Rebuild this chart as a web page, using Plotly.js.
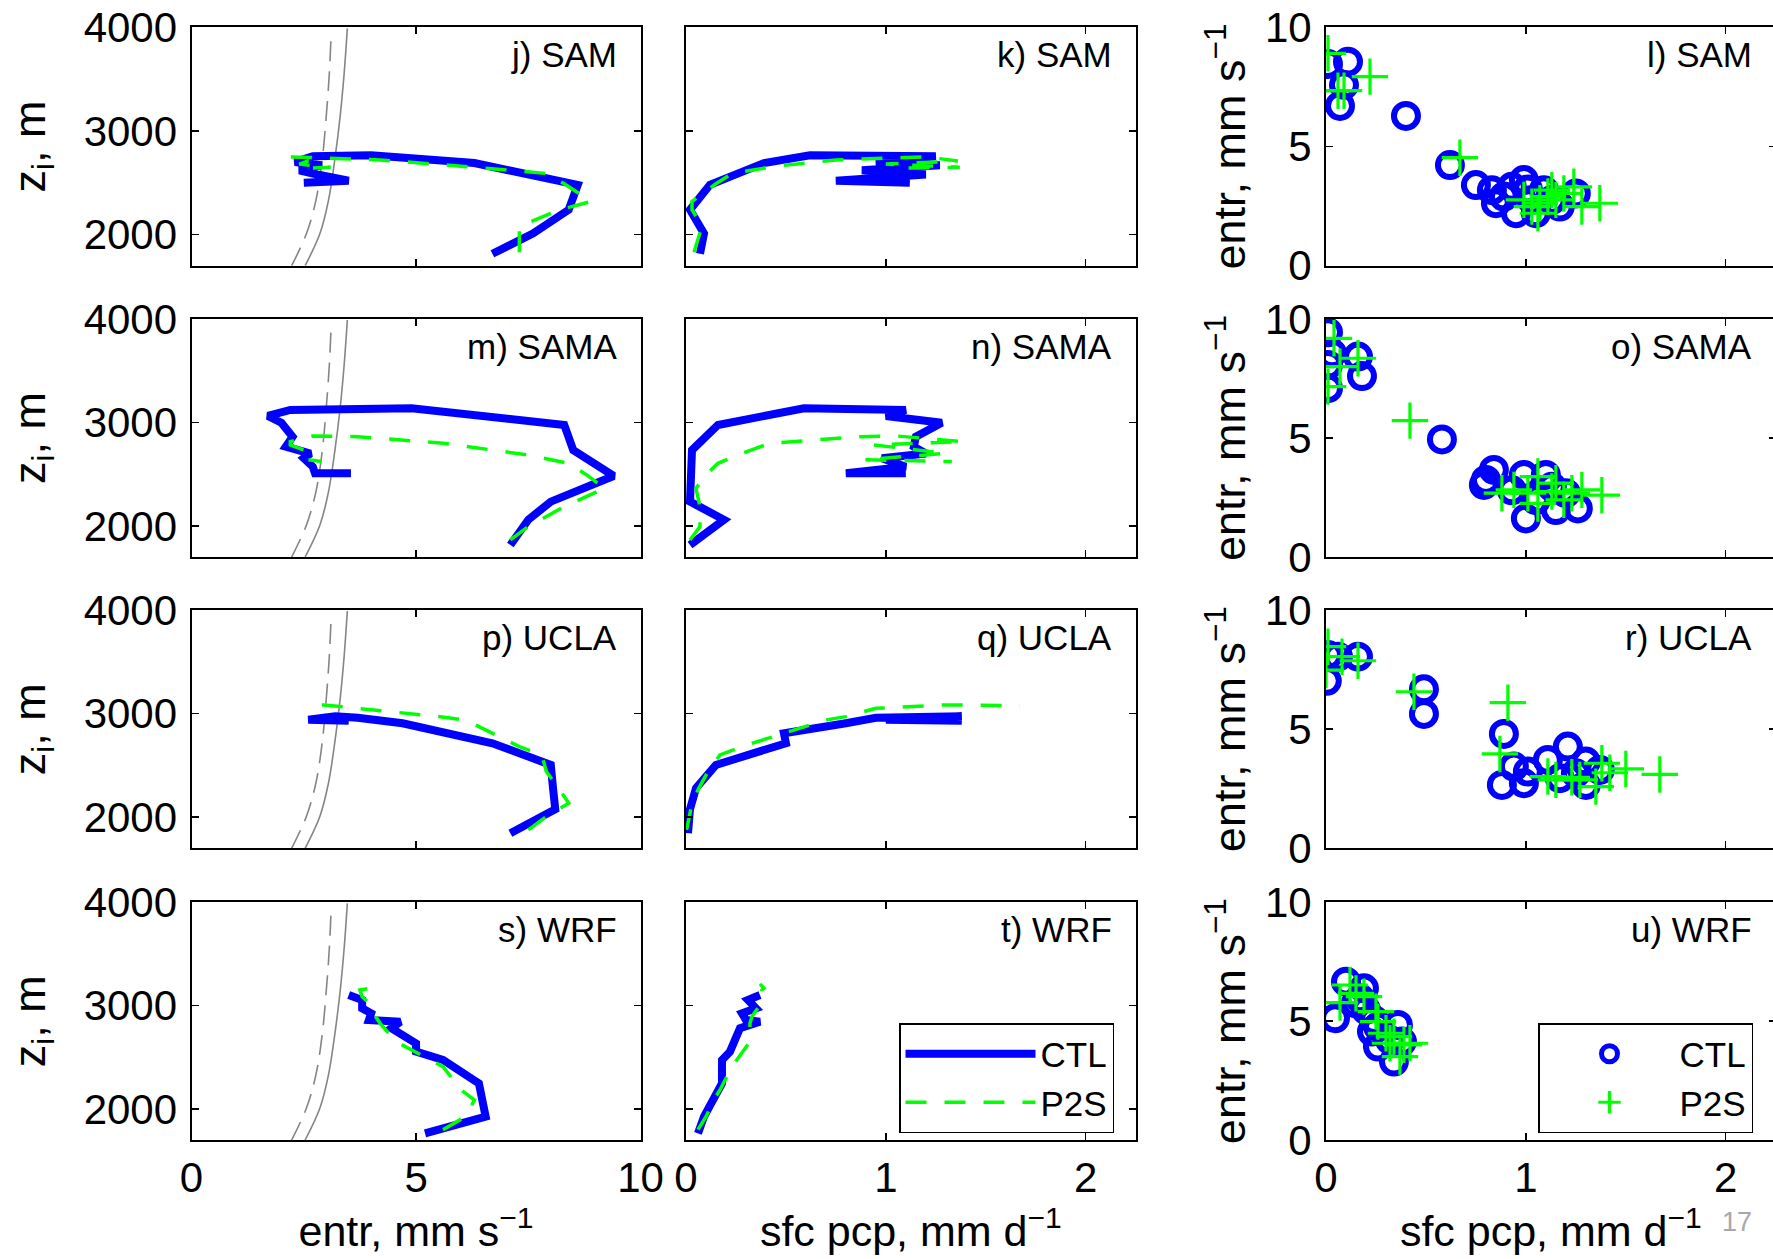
<!DOCTYPE html>
<html>
<head>
<meta charset="utf-8">
<script src="https://cdn.plot.ly/plotly-3.0.1.min.js"></script>
<style>
html,body{margin:0;padding:0;background:#fff;overflow:hidden;}
#plot{width:1776px;height:1259px;}
</style>
</head>
<body>
<div id="plot"></div>
<script>
// ---------------- DATA ----------------
const panelLabels = ['j) SAM','k) SAM','l) SAM','m) SAMA','n) SAMA','o) SAMA','p) UCLA','q) UCLA','r) UCLA','s) WRF','t) WRF','u) WRF'];
const models = ['SAM','SAMA','UCLA','WRF'];

// reference grey curves (entrainment vs z_i)
const graySolidZ    = [1700, 2010, 2330, 2720, 3140, 3560, 3990];
const graySolidEntr = [2.53, 2.86, 3.05, 3.19, 3.31, 3.40, 3.47];
const grayDashZ     = [1700, 2010, 2330, 2720, 3140, 3560, 3940];
const grayDashEntr  = [2.23, 2.56, 2.77, 2.91, 3.00, 3.07, 3.11];

// SAM
const SAM_CTL_z    = [1815, 2010, 2240, 2480, 2690, 2765, 2755, 2700, 2670, 2620, 2580, 2520, 2500];
const SAM_CTL_entr = [6.7, 7.6, 8.4, 8.6, 6.3, 4.0, 2.7, 2.3, 2.9, 2.4, 2.8, 3.5, 2.5];
const SAM_CTL_pcp  = [0.07, 0.09, 0.02, 0.12, 0.39, 0.62, 1.25, 0.95, 1.27, 0.88, 1.2, 0.75, 1.12];
const SAM_P2S_z    = [1830, 2080, 2240, 2320, 2490, 2590, 2660, 2720, 2750, 2710, 2680, 2650, 2640];
const SAM_P2S_entr = [7.3, 7.3, 8.2, 8.9, 8.3, 7.9, 6.0, 4.2, 2.2, 2.6, 2.4, 3.1, 2.5];
const SAM_P2S_pcp  = [0.04, 0.08, 0.03, 0.03, 0.15, 0.23, 0.45, 0.75, 1.2, 1.36, 1.0, 1.37, 1.05];
const SAM_CTL_sc_pcp  = [0.01, 0.11, 0.09, 0.07, 0.40, 0.62, 0.75, 0.83, 0.85, 0.93, 0.99, 0.95, 1.05, 1.09, 1.17, 1.25, 0.89, 1.03, 1.13, 1.01];
const SAM_CTL_sc_entr = [8.46, 8.56, 7.58, 6.70, 6.28, 4.22, 3.38, 3.17, 2.62, 3.31, 3.59, 2.20, 2.20, 3.17, 2.48, 3.03, 2.90, 2.76, 2.76, 3.20];
const SAM_P2S_sc_pcp  = [0.01, 0.06, 0.09, 0.22, 0.67, 0.99, 1.03, 1.06, 1.11, 1.13, 1.19, 1.24, 1.28, 1.37, 1.07, 1.15];
const SAM_P2S_sc_entr = [8.91, 7.34, 7.34, 7.93, 4.53, 2.76, 2.48, 2.20, 2.90, 3.17, 3.03, 3.31, 2.48, 2.62, 2.62, 2.76];

// SAMA
const SAMA_CTL_z    = [1816, 2060, 2235, 2483, 2734, 2976, 3137, 3121, 3063, 2998, 2863, 2766, 2700, 2654, 2573, 2509, 2509];
const SAMA_CTL_entr = [7.1, 7.5, 8.0, 9.4, 8.5, 8.3, 4.9, 2.2, 1.7, 2.0, 2.25, 2.1, 2.65, 2.5, 2.7, 2.75, 3.55];
const SAMA_CTL_pcp  = [0.02, 0.19, 0.02, 0.02, 0.03, 0.16, 0.59, 1.10, 1.0, 1.28, 1.15, 1.14, 1.2, 0.98, 1.1, 0.8, 1.1];
const SAMA_P2S_z    = [1865, 1994, 2187, 2364, 2493, 2605, 2686, 2799, 2863, 2870, 2815, 2783, 2702, 2640, 2622];
const SAMA_P2S_entr = [7.1, 7.5, 8.3, 9.2, 8.8, 8.4, 7.5, 5.6, 3.7, 2.7, 2.2, 2.2, 2.7, 2.6, 2.9];
const SAMA_P2S_pcp  = [0.02, 0.07, 0.07, 0.05, 0.10, 0.16, 0.26, 0.42, 0.87, 1.05, 1.39, 0.94, 1.30, 0.89, 1.33];
const SAMA_CTL_sc_pcp  = [0.01, 0.01, 0.03, 0.16, 0.18, 0.01, 0.58, 0.80, 0.84, 0.79, 0.99, 1.00, 1.10, 1.15, 1.26, 1.05, 1.20, 0.93, 1.13];
const SAMA_CTL_sc_entr = [9.44, 8.07, 8.56, 8.42, 7.60, 7.09, 4.94, 3.24, 3.66, 3.03, 3.45, 1.62, 3.45, 1.97, 2.04, 2.39, 2.68, 2.80, 2.95];
const SAMA_P2S_sc_pcp  = [0.04, 0.07, 0.16, 0.01, 0.42, 0.88, 0.94, 1.06, 1.06, 1.13, 1.15, 1.23, 1.28, 1.38, 1.01, 1.19];
const SAMA_P2S_sc_entr = [9.19, 8.00, 8.35, 7.16, 5.73, 2.68, 2.82, 3.38, 2.25, 2.75, 3.10, 2.68, 2.82, 2.60, 2.68, 2.40];

// UCLA
const UCLA_CTL_z    = [1846, 2077, 2280, 2505, 2714, 2810, 2907, 2960, 2975, 2940, 2930, 2950];
const UCLA_CTL_entr = [7.1, 8.1, 8.05, 8.0, 6.7, 5.6, 4.7, 3.7, 3.2, 2.6, 3.5, 2.8];
const UCLA_CTL_pcp  = [0.01, 0.02, 0.05, 0.15, 0.50, 0.49, 0.80, 0.95, 1.38, 1.00, 1.38, 1.10];
const UCLA_P2S_z    = [1878, 2006, 2135, 2264, 2441, 2601, 2682, 2939, 2971, 3051, 3084, 3077];
const UCLA_P2S_entr = [7.5, 7.9, 8.4, 8.2, 7.9, 7.8, 7.3, 6.1, 5.5, 3.7, 2.95, 2.5];
const UCLA_P2S_pcp  = [0.003, 0.015, 0.03, 0.06, 0.11, 0.17, 0.28, 0.70, 0.80, 0.95, 1.30, 1.67];
const UCLA_CTL_sc_pcp  = [0.004, 0.01, 0.06, 0.16, 0.49, 0.49, 0.89, 0.88, 0.94, 0.99, 1.01, 1.11, 1.21, 1.17, 1.30, 1.30, 1.37, 1.25];
const UCLA_CTL_sc_entr = [7.03, 8.11, 8.04, 8.04, 6.67, 5.64, 4.80, 2.66, 3.43, 2.73, 3.22, 3.71, 4.27, 2.94, 3.64, 2.66, 3.29, 3.15];
const UCLA_P2S_sc_pcp  = [0.01, 0.0, 0.08, 0.16, 0.44, 0.91, 0.87, 1.11, 1.15, 1.23, 1.27, 1.35, 1.38, 1.42, 1.50, 1.67];
const UCLA_P2S_sc_entr = [8.46, 7.48, 8.04, 7.87, 6.57, 6.11, 3.96, 3.01, 2.87, 2.98, 2.87, 2.59, 3.57, 3.17, 3.33, 3.10];

// WRF
const WRF_CTL_z    = [1765, 1926, 2248, 2474, 2555, 2635, 2781, 2845, 2861, 2926, 2974, 3055, 3103];
const WRF_CTL_entr = [5.2, 6.55, 6.4, 5.6, 5.0, 5.0, 4.45, 4.65, 3.95, 4.0, 3.8, 3.8, 3.5];
const WRF_CTL_pcp  = [0.06, 0.09, 0.18, 0.18, 0.22, 0.24, 0.27, 0.37, 0.30, 0.28, 0.35, 0.31, 0.37];
const WRF_P2S_z    = [1800, 1926, 2087, 2184, 2410, 2652, 2829, 2894, 3006, 3087, 3152, 3168, 3210];
const WRF_P2S_entr = [5.6, 6.1, 6.3, 6.0, 5.6, 4.55, 4.2, 4.1, 4.0, 3.8, 3.75, 4.0, 3.7];
const WRF_P2S_pcp  = [0.06, 0.10, 0.14, 0.17, 0.23, 0.32, 0.32, 0.33, 0.37, 0.37, 0.38, 0.39, 0.37];
const WRF_CTL_sc_pcp  = [0.045, 0.10, 0.19, 0.17, 0.20, 0.24, 0.26, 0.26, 0.36, 0.34, 0.32, 0.38, 0.15, 0.23];
const WRF_CTL_sc_entr = [5.12, 6.66, 6.38, 5.96, 5.47, 5.05, 4.77, 3.93, 4.84, 3.30, 4.21, 4.14, 5.75, 4.56];
const WRF_P2S_sc_pcp  = [0.07, 0.12, 0.15, 0.19, 0.25, 0.26, 0.30, 0.34, 0.39, 0.37, 0.32, 0.42];
const WRF_P2S_sc_entr = [5.78, 6.52, 6.17, 6.03, 5.40, 4.98, 4.49, 4.35, 4.00, 3.51, 4.07, 4.07];

const seriesNames = ['CTL', 'P2S'];
const zTicks = [2000, 3000, 4000];
const entrTicks = [0, 5, 10];
const pcpTicks = [0, 1, 2];

// ---------------- LAYOUT / STYLE ----------------
const FONT = 'Liberation Sans, Arial, Helvetica, sans-serif';
const W = 1776, H = 1259;
const colPx = [[191.5, 640.6], [686, 1135.7], [1326, 1775.7]];
const rowPx = [[27.3, 265.7], [319, 557], [610, 848.3], [902.3, 1140]];
const BLUE = '#0000ff', GREEN = '#00ff00', GREY = '#858585';

const table = {
  SAM:  {CTL:{z:SAM_CTL_z, entr:SAM_CTL_entr, pcp:SAM_CTL_pcp, scP:SAM_CTL_sc_pcp, scE:SAM_CTL_sc_entr},
         P2S:{z:SAM_P2S_z, entr:SAM_P2S_entr, pcp:SAM_P2S_pcp, scP:SAM_P2S_sc_pcp, scE:SAM_P2S_sc_entr}},
  SAMA: {CTL:{z:SAMA_CTL_z, entr:SAMA_CTL_entr, pcp:SAMA_CTL_pcp, scP:SAMA_CTL_sc_pcp, scE:SAMA_CTL_sc_entr},
         P2S:{z:SAMA_P2S_z, entr:SAMA_P2S_entr, pcp:SAMA_P2S_pcp, scP:SAMA_P2S_sc_pcp, scE:SAMA_P2S_sc_entr}},
  UCLA: {CTL:{z:UCLA_CTL_z, entr:UCLA_CTL_entr, pcp:UCLA_CTL_pcp, scP:UCLA_CTL_sc_pcp, scE:UCLA_CTL_sc_entr},
         P2S:{z:UCLA_P2S_z, entr:UCLA_P2S_entr, pcp:UCLA_P2S_pcp, scP:UCLA_P2S_sc_pcp, scE:UCLA_P2S_sc_entr}},
  WRF:  {CTL:{z:WRF_CTL_z, entr:WRF_CTL_entr, pcp:WRF_CTL_pcp, scP:WRF_CTL_sc_pcp, scE:WRF_CTL_sc_entr},
         P2S:{z:WRF_P2S_z, entr:WRF_P2S_entr, pcp:WRF_P2S_pcp, scP:WRF_P2S_sc_pcp, scE:WRF_P2S_sc_entr}}
};

const traces = [];
const legendStyle = (xpx) => ({x: xpx/W, y: 1 - 1023/H, xanchor: 'left', yanchor: 'top',
  bgcolor: 'white', bordercolor: 'black', borderwidth: 1.5,
  font: {family: FONT, size: 35, color: 'black'}, itemwidth: 130, tracegroupgap: 0});
const layout = {
  width: W, height: H,
  margin: {l:0, r:0, t:0, b:0},
  paper_bgcolor: 'white', plot_bgcolor: 'white',
  font: {family: FONT, color: 'black'},
  showlegend: true,
  annotations: [],
  legend: legendStyle(899),
  legend2: legendStyle(1538)
};

function axisBase() {
  return {showline: true, linecolor: 'black', linewidth: 2, mirror: 'ticks',
          ticks: 'inside', ticklen: 7, tickwidth: 1.5, tickcolor: 'black',
          showgrid: false, zeroline: false, fixedrange: true, automargin: false,
          tickfont: {family: FONT, size: 42, color: 'black'}};
}
const titleFont = {family: FONT, size: 45, color: 'black'};
const xTitleFont = {family: FONT, size: 43, color: 'black'};

models.forEach((m, r) => {
  for (let c = 0; c < 3; c++) {
    const n = r*3 + c + 1;
    const xa = 'x' + n, ya = 'y' + n;
    const xk = 'xaxis' + n, yk = 'yaxis' + n;
    const X = axisBase(), Y = axisBase();
    X.domain = [colPx[c][0]/W, colPx[c][1]/W];
    Y.domain = [1 - rowPx[r][1]/H, 1 - rowPx[r][0]/H];
    X.anchor = ya; Y.anchor = xa;
    X.ticklabelstandoff = 0;
    Y.ticklabelstandoff = 4;
    X.showticklabels = (r === 3);
    if (c === 0) {
      X.range = [0, 10]; X.tickvals = entrTicks;
      Y.range = [1700, 4000]; Y.tickvals = zTicks;
      Y.title = {text: 'z<sub>i</sub>, m', font: titleFont, standoff: 24};
      if (r === 3) X.title = {text: 'entr, mm s<sup>\u22121</sup>', font: xTitleFont, standoff: 12};
    } else if (c === 1) {
      X.range = [0, 2.25]; X.tickvals = pcpTicks;
      Y.range = [1700, 4000]; Y.tickvals = zTicks; Y.showticklabels = false;
      if (r === 3) X.title = {text: 'sfc pcp, mm d<sup>\u22121</sup>', font: xTitleFont, standoff: 12};
    } else {
      X.range = [0, 2.25]; X.tickvals = pcpTicks;
      Y.range = [0, 10]; Y.tickvals = entrTicks;
      Y.title = {text: 'entr, mm s<sup>\u22121</sup>', font: titleFont, standoff: 5};
      if (r === 3) X.title = {text: 'sfc pcp, mm d<sup>\u22121</sup>', font: xTitleFont, standoff: 12};
    }
    layout[xk] = X; layout[yk] = Y;

    layout.annotations.push({text: panelLabels[n-1], xref: xa + ' domain', yref: ya + ' domain',
      x: 1, y: 1, xanchor: 'right', yanchor: 'top', xshift: -22, yshift: -6, showarrow: false,
      font: {family: FONT, size: 35, color: 'black'}});

    const d = table[m];
    if (c === 0) {
      traces.push({type: 'scatter', mode: 'lines', x: graySolidEntr, y: graySolidZ, xaxis: xa, yaxis: ya,
        line: {color: GREY, width: 1.6, shape: 'spline'}, showlegend: false, hoverinfo: 'skip'});
      traces.push({type: 'scatter', mode: 'lines', x: grayDashEntr, y: grayDashZ, xaxis: xa, yaxis: ya,
        line: {color: GREY, width: 1.6, dash: '20px,10px', shape: 'spline'}, showlegend: false, hoverinfo: 'skip'});
    }
    if (c < 2) {
      const key = c === 0 ? 'entr' : 'pcp';
      traces.push({type: 'scatter', mode: 'lines', name: seriesNames[0], x: d.CTL[key], y: d.CTL.z, xaxis: xa, yaxis: ya,
        line: {color: BLUE, width: 8}, showlegend: (r === 3 && c === 1), legend: 'legend'});
      traces.push({type: 'scatter', mode: 'lines', name: seriesNames[1], x: d.P2S[key], y: d.P2S.z, xaxis: xa, yaxis: ya,
        line: {color: GREEN, width: 3.5, dash: '21px,18px'}, showlegend: (r === 3 && c === 1), legend: 'legend'});
    } else {
      traces.push({type: 'scatter', mode: 'markers', name: seriesNames[0], x: d.CTL.scP, y: d.CTL.scE, xaxis: xa, yaxis: ya,
        marker: {symbol: 'circle-open', size: 24, color: BLUE, line: {color: BLUE, width: 6}},
        showlegend: (r === 3), legend: 'legend2', cliponaxis: true});
      traces.push({type: 'scatter', mode: 'markers', name: seriesNames[1], x: d.P2S.scP, y: d.P2S.scE, xaxis: xa, yaxis: ya,
        marker: {symbol: 'cross-thin-open', size: 26, color: GREEN, line: {color: GREEN, width: 3.2}},
        showlegend: (r === 3), legend: 'legend2', cliponaxis: true});
    }
  }
});

layout.annotations.push({text: '17', xref: 'paper', yref: 'paper', x: 1737/W, y: 1 - 1222/H,
  xanchor: 'center', yanchor: 'middle',
  showarrow: false, font: {family: FONT, size: 27, color: '#a8a8a8'}});

Plotly.newPlot('plot', traces, layout, {displayModeBar: false, staticPlot: true});
</script>
</body>
</html>
